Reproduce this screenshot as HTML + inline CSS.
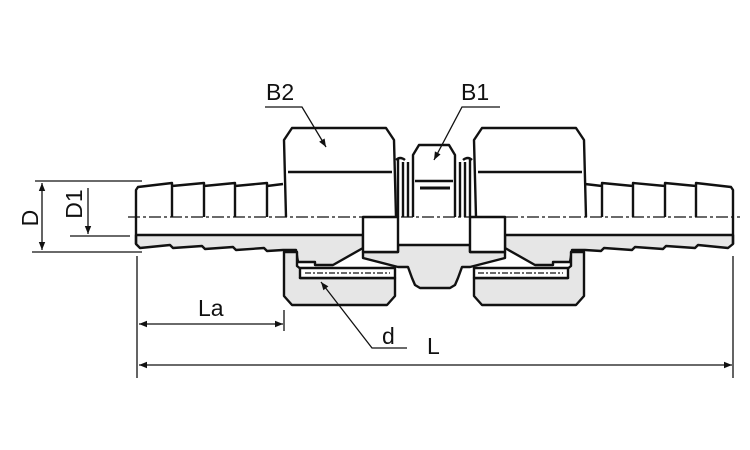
<!DOCTYPE html>
<html><head><meta charset="utf-8"><style>
html,body{margin:0;padding:0;background:#fff;}
svg{display:block}
text{font-family:"Liberation Sans",sans-serif;fill:#111}
</style></head><body>
<svg width="750" height="450" viewBox="0 0 750 450" xmlns="http://www.w3.org/2000/svg">
<defs>
<marker id="a" viewBox="0 0 10 10" refX="10" refY="5" markerWidth="12" markerHeight="8" orient="auto-start-reverse" markerUnits="userSpaceOnUse"><path d="M0,1 L10,5 L0,9 Z" fill="#111"/></marker>
</defs>
<g stroke="#111" stroke-width="2.4" fill="none" stroke-linejoin="round">
<!-- left barb lower grey body -->
<path d="M136,235 L363,235 L363,248 L333,265 L315,265 L315,262 L298,262 L296,250 L283,250 L267,251 L264,248 L236,250 L233,247 L205,249 L202,246 L173,248 L170,245 L140,248 L136,244 Z" fill="#e6e6e6"/>
<!-- right barb lower grey body -->
<path d="M733,235 L505,235 L505,248 L535,265 L553,265 L553,262 L570,262 L572,250 L585,250 L601,251 L604,248 L632,250 L635,247 L663,249 L666,246 L695,248 L698,245 L728,248 L733,244 Z" fill="#e6e6e6"/>
<!-- left nut lower -->
<path d="M284,252 L297,252 L297,266 L302,270 L300,278 L395,278 L395,296 L387,305 L292,305 L284,296 Z" fill="#e6e6e6"/>
<path d="M300,268 L395,268 L395,278 L300,278 Z" fill="#fff"/>
<!-- right nut lower -->
<path d="M584,252 L571,252 L571,266 L566,270 L568,278 L474,278 L474,296 L482,305 L576,305 L584,296 Z" fill="#e6e6e6"/>
<path d="M568,268 L474,268 L474,278 L568,278 Z" fill="#fff"/>
<!-- middle body grey -->
<path d="M363,252 L398,252 L398,245 L470,245 L470,252 L505,252 L505,258 L470,267 L462,267 L458,278 L455,285 L450,288 L420,288 L415,285 L412,278 L408,267 L398,267 L363,258 Z" fill="#e6e6e6"/>
<!-- white blocks -->
<rect x="363" y="217" width="35" height="35" fill="#fff"/>
<rect x="470" y="217" width="35" height="35" fill="#fff"/>
<!-- left barb upper -->
<path d="M136,244 L136,190 L138,187 L172,183 L172,217 M172,186 L204,183 L204,217 M204,186 L235,183 L235,217 M235,186 L267,183 L267,217 M267,186 L283,184"/>
<!-- right barb upper -->
<path d="M733,244 L733,190 L731,187 L696,183 L696,217 M696,186 L665,183 L665,217 M665,186 L633,183 L633,217 M633,186 L602,183 L602,217 M602,186 L585,184"/>
<!-- left nut upper -->
<path d="M286,217 L284,140 L292,128 L386,128 L394,140 L396,217 M288,172 L392,172"/>
<!-- right nut upper -->
<path d="M476,217 L474,140 L482,128 L576,128 L584,140 L586,217 M478,172 L582,172"/>
<!-- B1 hex -->
<path d="M413,217 L413,155 L419,145 L449,145 L455,155 L455,217 M415,181 L453,181"/>
<path d="M420,188 L450,188" stroke-width="3"/>
<!-- middle vertical lines -->
<path d="M398,158 L398,217 M403,162 L403,217 M408,162 L408,217 M460,162 L460,217 M465,162 L465,217 M470,158 L470,217 M396,160 Q400,156 405,160 M463,160 Q468,156 472,160"/>
</g>
<g stroke="#111" stroke-width="1.3" fill="none">
<!-- thread dashes -->
<path d="M305,273 L390,273 M478,273 L563,273" stroke-dasharray="6,2,2,2"/>
<!-- centerline -->
<path d="M128,217 L740,217" stroke-dasharray="12,3,3,3"/>
<!-- dims -->
<path d="M35,181 L142,181 M32,252 L142,252 M70,236 L130,236"/>
<path d="M42,183 L42,250" marker-start="url(#a)" marker-end="url(#a)"/>
<path d="M88,188 L88,234" marker-end="url(#a)"/>
<path d="M137,256 L137,378 M733,256 L733,378 M284,310 L284,331"/>
<path d="M139,324 L283,324" marker-start="url(#a)" marker-end="url(#a)"/>
<path d="M139,365 L732,365" marker-start="url(#a)" marker-end="url(#a)"/>
<path d="M265,107 L302,107 L326,147" marker-end="url(#a)"/>
<path d="M500,107 L462,107 L434,160" marker-end="url(#a)"/>
<path d="M407,348 L372,348 L321,282" marker-end="url(#a)"/>
</g>
<text x="266" y="100" font-size="23">B2</text>
<text x="461" y="100" font-size="23">B1</text>
<text x="198" y="316" font-size="23">La</text>
<text x="382" y="344" font-size="23">d</text>
<text x="427" y="354" font-size="23">L</text>
<text transform="translate(38,218) rotate(-90)" font-size="23" text-anchor="middle">D</text>
<text transform="translate(82,204) rotate(-90)" font-size="23" text-anchor="middle">D1</text>
</svg>
</body></html>
